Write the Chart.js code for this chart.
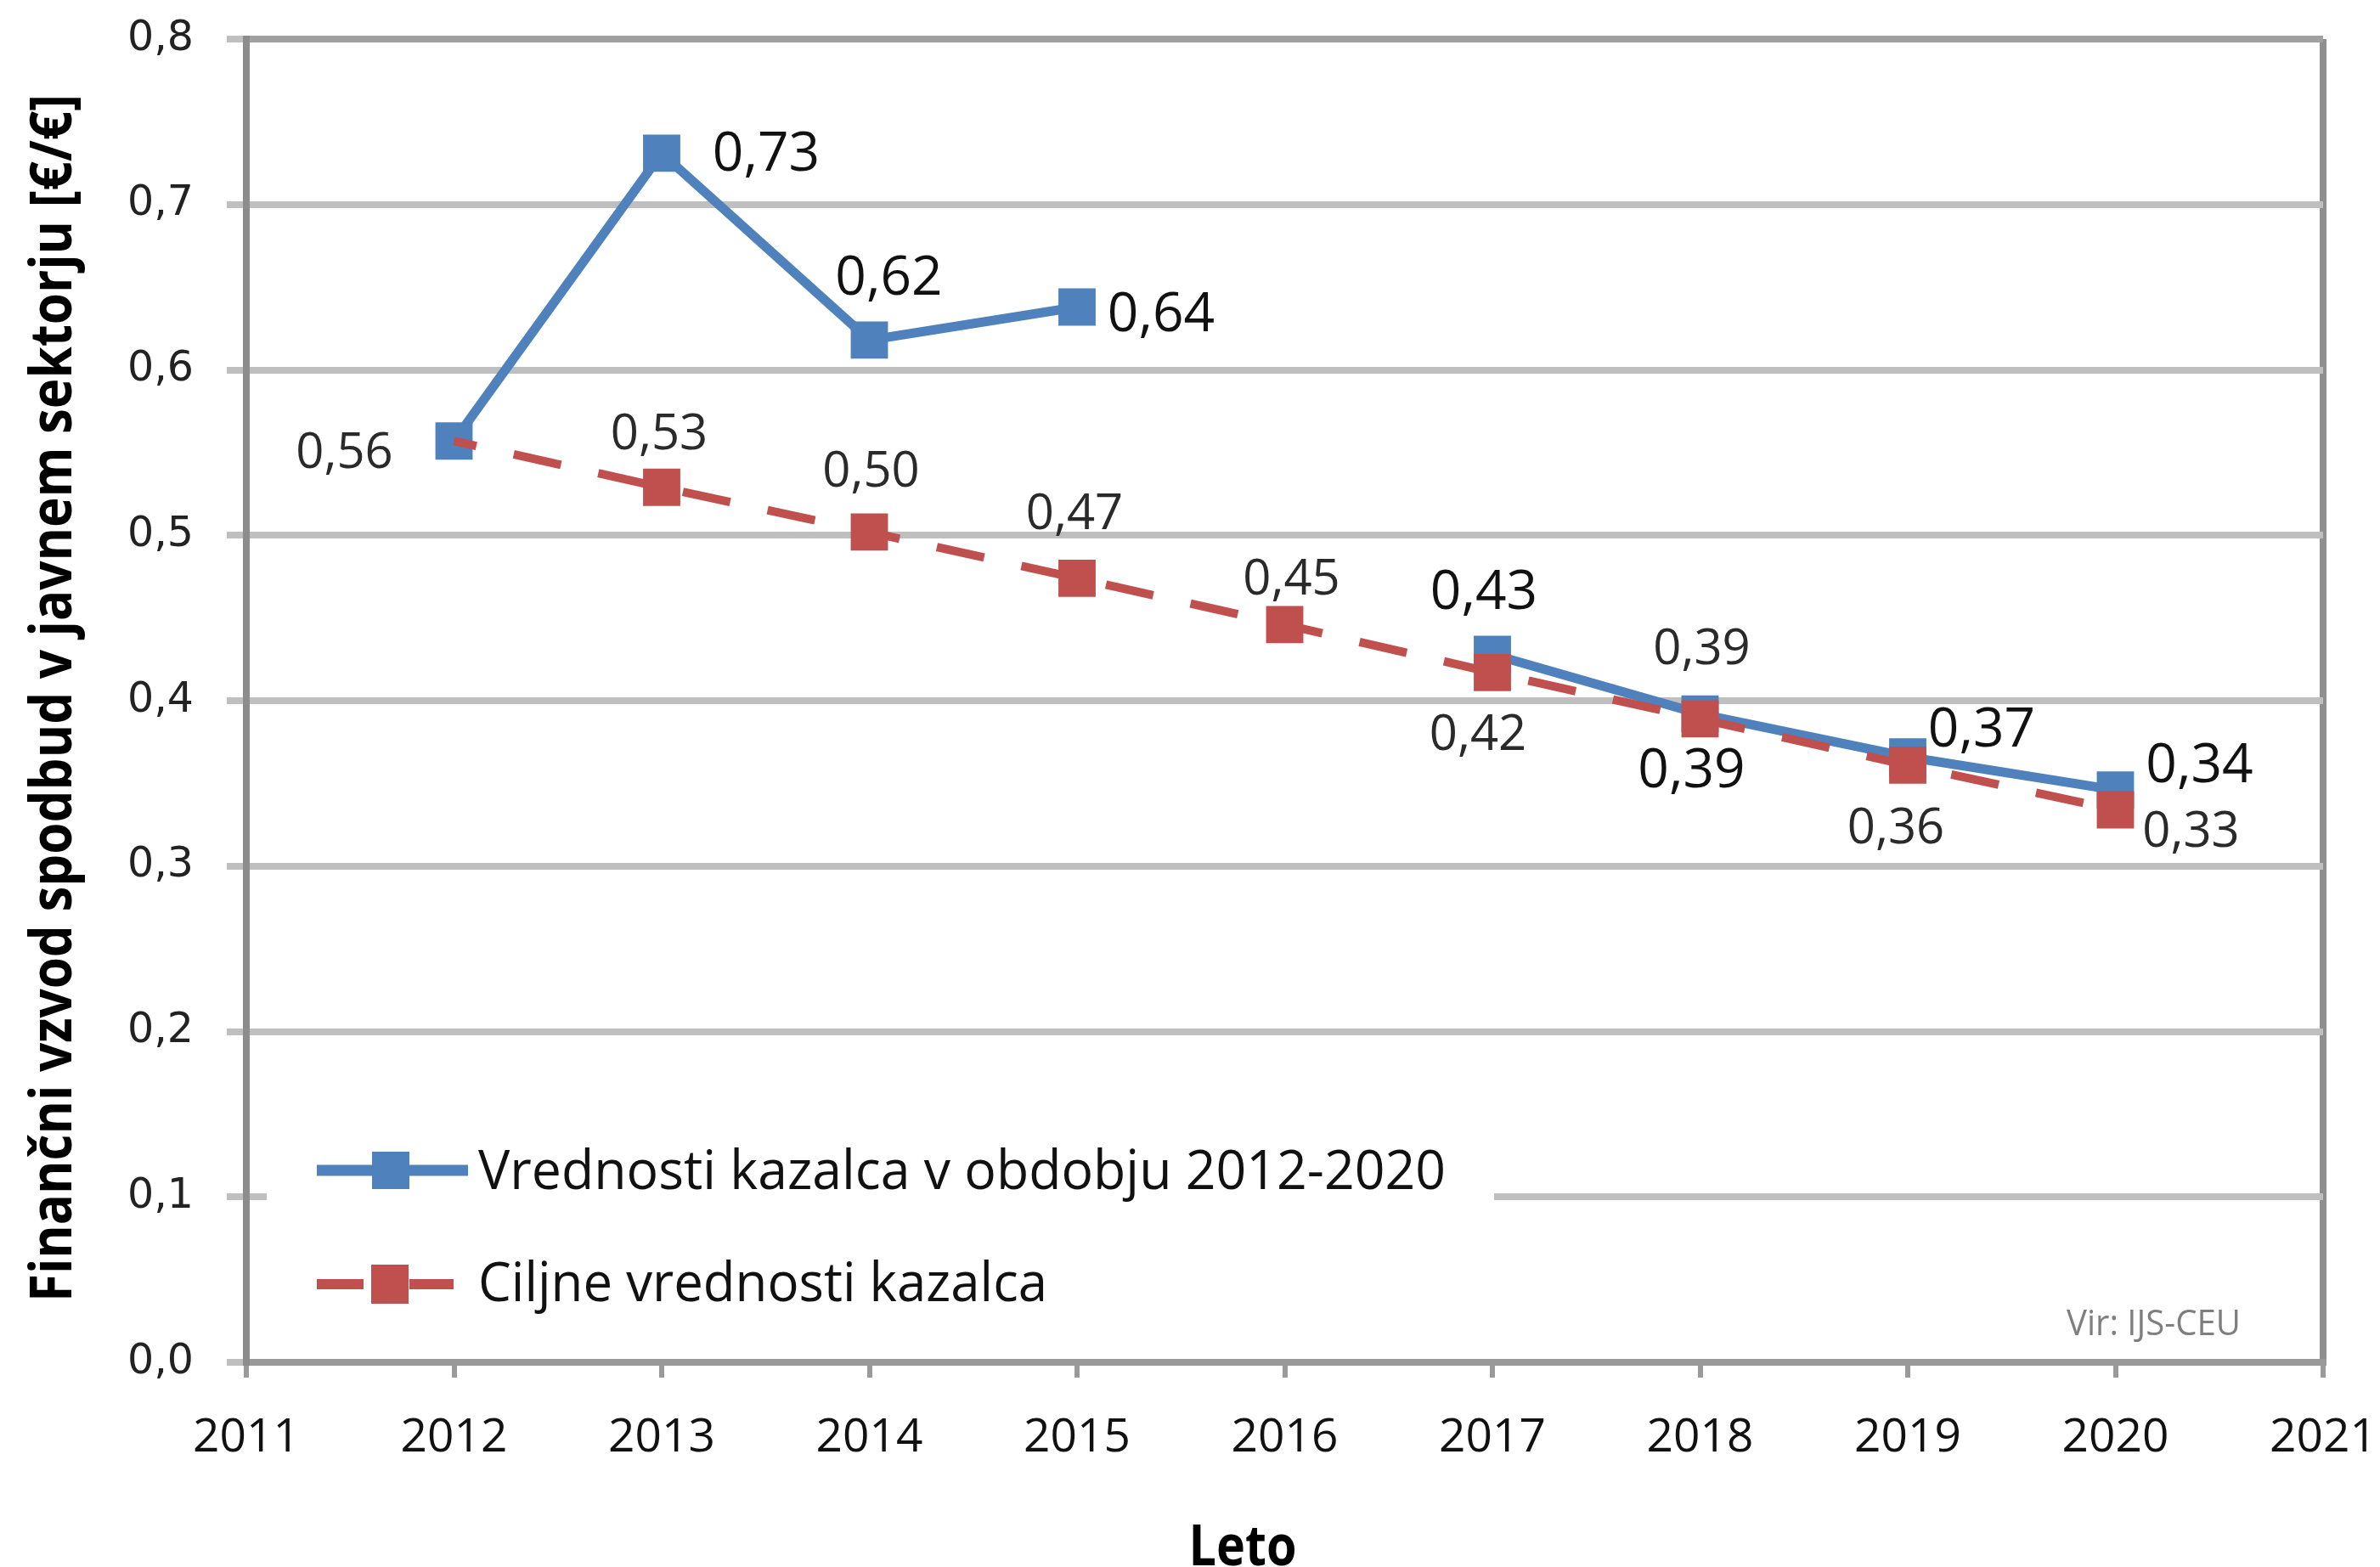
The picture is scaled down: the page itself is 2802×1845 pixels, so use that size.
<!DOCTYPE html>
<html><head><meta charset="utf-8">
<script src="https://cdn.jsdelivr.net/npm/chart.js@4.4.1/dist/chart.umd.min.js"></script>
<style>html,body{margin:0;padding:0;background:#fff}canvas{display:block}</style>
</head><body>
<canvas id="c" width="2802" height="1845" style="width:2802px;height:1845px"></canvas>
<script>
// ---------- data ----------
const years = [2012, 2013, 2014, 2015, 2016, 2017, 2018, 2019, 2020];
const actualValues = [0.557, 0.731, 0.618, 0.638, null, 0.428, 0.392, 0.366, 0.346];
const targetValues = [0.557, 0.529, 0.502, 0.474, 0.446, 0.417, 0.389, 0.361, 0.334];
const actualLabels = ['', '0,73', '0,62', '0,64', '', '0,43', '0,39', '0,37', '0,34'];
const targetLabels = ['0,56', '0,53', '0,50', '0,47', '0,45', '0,42', '0,39', '0,36', '0,33'];
const xTickLabels = ['2011','2012','2013','2014','2015','2016','2017','2018','2019','2020','2021'];
const yTickLabels = ['0,0','0,1','0,2','0,3','0,4','0,5','0,6','0,7','0,8'];
const seriesNames = ['Vrednosti kazalca v obdobju 2012-2020', 'Ciljne vrednosti kazalca'];
const yTitle = 'Finančni vzvod spodbud v javnem sektorju [€/€]';
const xTitle = 'Leto';
const sourceNote = 'Vir: IJS-CEU';

// ---------- placement of value labels (pixel offsets from each point) ----------
const actualLabelOffsets = [[0,0],[123,-2],[23,-76],[99,6],[0,0],[-10,-76],[-10,64],[87,-35],[99,-32]];
const targetLabelOffsets = [[-129,11],[-3,-65],[2,-74],[-3,-79],[8,-56],[-17,70],[2,-85],[-14,71],[89,23]];

const BLUE = '#4F81BD';
const RED = '#C0504D';

function toPoints(vals) { return years.map((y, i) => ({x: y, y: vals[i]})); }

function fitText(ctx, text, x, y, font, targetW, align, color) {
  ctx.save();
  ctx.font = font;
  ctx.fillStyle = color;
  const w = ctx.measureText(text).width;
  const s = targetW ? targetW / w : 1;
  ctx.translate(x, y);
  ctx.scale(s, 1);
  ctx.textAlign = align;
  ctx.textBaseline = 'alphabetic';
  ctx.fillText(text, 0, 0);
  ctx.restore();
}

const decorPlugin = {
  id: 'decor',
  beforeDatasetsDraw(chart) {
    const ctx = chart.ctx;
    ctx.save();
    ctx.fillStyle = '#ffffff';
    ctx.fillRect(314, 1300, 1445, 268);
    ctx.restore();
  },
  afterDatasetsDraw(chart) {
    const ctx = chart.ctx;
    // value labels
    const drawLabels = (dsIndex, labels, offsets, size, color) => {
      const meta = chart.getDatasetMeta(dsIndex);
      ctx.save();
      ctx.font = size + 'px "Open Sans"';
      ctx.fillStyle = color;
      ctx.textAlign = 'center';
      ctx.textBaseline = 'alphabetic';
      meta.data.forEach((pt, i) => {
        if (!labels[i]) return;
        const cx = pt.x + offsets[i][0];
        const cy = pt.y + offsets[i][1];
        ctx.fillText(labels[i], cx, cy + 0.357 * size);
      });
      ctx.restore();
    };
    drawLabels(1, targetLabels, targetLabelOffsets, 58, '#2a2a2a');
    drawLabels(0, actualLabels, actualLabelOffsets, 64, '#111111');

    // legend
    const ds = chart.data.datasets;
    ctx.save();
    ctx.lineCap = 'butt';
    ctx.strokeStyle = ds[0].borderColor;
    ctx.lineWidth = 13;
    ctx.beginPath(); ctx.moveTo(373, 1378); ctx.lineTo(551, 1378); ctx.stroke();
    ctx.fillStyle = ds[0].backgroundColor;
    ctx.fillRect(460 - 22, 1378 - 22, 44, 44);
    ctx.strokeStyle = ds[1].borderColor;
    ctx.lineWidth = 12;
    ctx.beginPath(); ctx.moveTo(373, 1512); ctx.lineTo(428, 1512); ctx.stroke();
    ctx.beginPath(); ctx.moveTo(482, 1512); ctx.lineTo(534, 1512); ctx.stroke();
    ctx.fillStyle = ds[1].backgroundColor;
    ctx.fillRect(459 - 22, 1512 - 23, 44, 46);
    ctx.restore();
    fitText(ctx, ds[0].label, 563, 1400, '64px "Open Sans"', 1139, 'left', '#111');
    fitText(ctx, ds[1].label, 563, 1532, '64px "Open Sans"', 670, 'left', '#111');

    // source note
    fitText(ctx, sourceNote, 2433, 1572, '42px "Open Sans"', 205, 'left', '#7f7f7f');

    // axis titles
    fitText(ctx, xTitle, 1463, 1843, 'bold 66px "Open Sans"', 127, 'center', '#000');
    ctx.save();
    ctx.translate(84, 822);
    ctx.rotate(-Math.PI / 2);
    fitText(ctx, yTitle, 0, 0, 'bold 68px "Open Sans"', 1422, 'center', '#000');
    ctx.restore();
  }
};

function build() {
  const ctx = document.getElementById('c').getContext('2d');
  new Chart(ctx, {
    type: 'line',
    data: {
      datasets: [
        {
          label: seriesNames[0],
          data: toPoints(actualValues),
          borderColor: BLUE,
          backgroundColor: BLUE,
          pointBackgroundColor: BLUE,
          borderWidth: 11,
          pointStyle: 'rect',
          pointRadius: 31,
          pointBorderWidth: 0,
          spanGaps: false,
          tension: 0,
          order: 2
        },
        {
          label: seriesNames[1],
          data: toPoints(targetValues),
          borderColor: RED,
          backgroundColor: RED,
          pointBackgroundColor: RED,
          borderWidth: 10,
          borderDash: [57, 45],
          borderDashOffset: 30,
          pointStyle: 'rect',
          // the first target marker sits hidden beneath the blue one in the original
          pointRadius: (c) => (c.dataIndex === 0 ? 0 : 31),
          pointBorderWidth: 0,
          tension: 0,
          order: 1
        }
      ]
    },
    options: {
      responsive: false,
      animation: false,
      devicePixelRatio: 1,
      layout: {padding: {top: 46, right: 67, bottom: 0, left: 0}},
      plugins: {legend: {display: false}, tooltip: {enabled: false}},
      scales: {
        x: {
          type: 'linear',
          min: 2011, max: 2021,
          afterFit(s) { s.height = 1845 - 1604; s.paddingLeft = 0; s.paddingRight = 0; },
          ticks: {
            stepSize: 1,
            autoSkip: false,
            maxRotation: 0,
            padding: 38,
            color: '#111',
            font: {family: 'Open Sans', size: 55},
            callback: (v, i) => xTickLabels[i]
          },
          grid: {
            display: true,
            drawOnChartArea: true,
            color: (c) => (c.index === 10 ? '#8f8f8f' : 'rgba(0,0,0,0)'),
            lineWidth: 8,
            tickLength: 18,
            tickColor: '#9a9a9a',
            tickWidth: 6
          },
          border: {display: true, color: '#999999', width: 8}
        },
        y: {
          min: 0, max: 0.8,
          afterFit(s) { s.width = 290; s.paddingTop = 0; s.paddingBottom = 0; },
          ticks: {
            stepSize: 0.1,
            padding: 39,
            color: '#222',
            font: {family: 'DejaVu Sans', size: 49},
            callback: (v, i) => yTickLabels[i]
          },
          grid: {
            color: (c) => (c.index === 8 ? '#a0a0a0' : '#bfbfbf'),
            lineWidth: 8,
            tickLength: 23,
            tickColor: '#bfbfbf'
          },
          border: {display: true, color: '#8c8c8c', width: 8}
        }
      }
    },
    plugins: [decorPlugin]
  });
}

const fontLoads = [
  '55px "Open Sans"', 'bold 66px "Open Sans"', '49px "DejaVu Sans"'
].map(f => document.fonts.load(f).catch(() => null));
Promise.all(fontLoads).then(build, build);
</script>
</body></html>
